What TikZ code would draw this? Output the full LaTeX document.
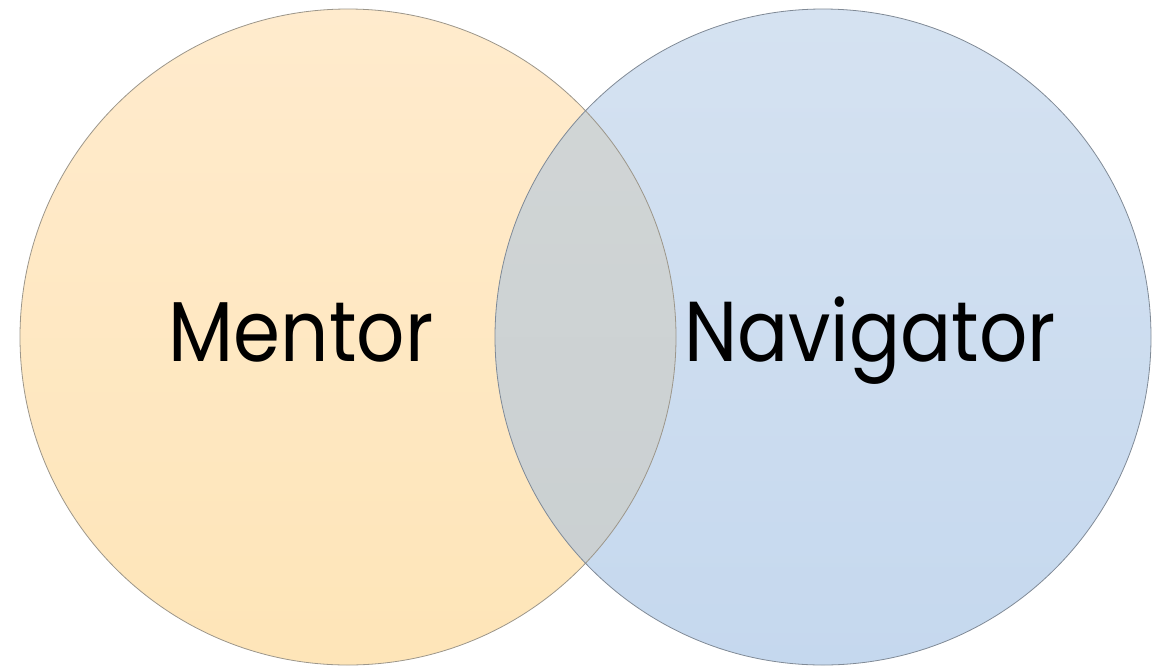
\documentclass[tikz,border=0pt]{standalone}
\usepackage{fontspec}
\setmainfont{Poppins}
\definecolor{ltop}{HTML}{FFEBCD}
\definecolor{lbot}{HTML}{FEE5B8}
\definecolor{rtop}{HTML}{D5E2F1}
\definecolor{rbot}{HTML}{C5D8EE}
\definecolor{itop}{HTML}{D2D6D6}
\definecolor{ibot}{HTML}{C9CFD1}
\definecolor{lstroke}{HTML}{9C968A}
\definecolor{rstroke}{HTML}{808A96}
\tikzset{label text/.style={font=\fontsize{85}{92}\selectfont, text=black, inner sep=0pt, anchor=base, xscale=0.89}}
\begin{document}
\begin{tikzpicture}[x=1pt,y=-1pt]
\useasboundingbox (0,0) rectangle (1162,665);
\coordinate (cl) at (348,337);
\coordinate (cr) at (823,337);
\shade[top color=ltop, bottom color=lbot] (cl) circle (328);
\shade[top color=rtop, bottom color=rbot] (cr) circle (328);
\begin{scope}
\clip (cl) circle (328);
\shade[top color=itop, bottom color=ibot] (cr) circle (328);
\end{scope}
\draw[lstroke, line width=0.8pt] (cl) circle (328);
\draw[rstroke, line width=0.8pt] (cr) circle (328);
\node[label text] (mentor) at (301,361) {Mentor};
\node[label text] (nav) at (870,361) {Navigator};
\end{tikzpicture}
\end{document}
